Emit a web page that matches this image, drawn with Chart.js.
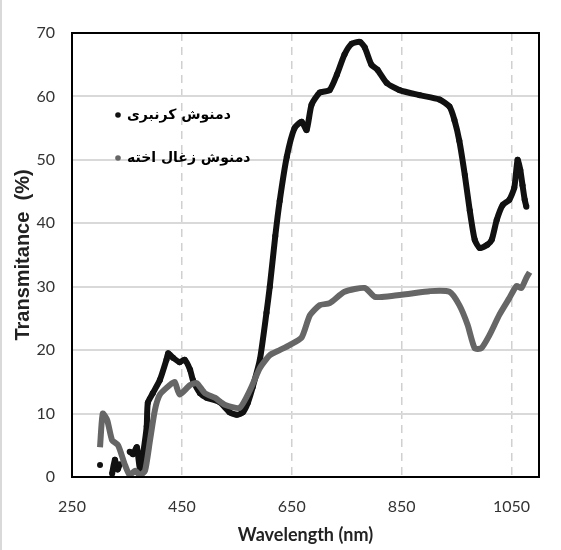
<!DOCTYPE html>
<html>
<head>
<meta charset="utf-8">
<script src="https://cdn.jsdelivr.net/npm/chart.js@4/dist/chart.umd.min.js"></script>
<style>
  html, body { margin: 0; padding: 0; background: #fff; }
  #wrap { width: 561px; height: 550px; position: relative; border-left: 2px solid #d9d9d9; box-sizing: border-box; }
</style>
</head>
<body>
<div id="wrap"><canvas id="chart" width="559" height="550"></canvas></div>
<script>
// подписи осей и тики
const xTicks = [250, 450, 650, 850, 1050];
const yTicks = [0, 10, 20, 30, 40, 50, 60, 70];
const seriesNames = ["دمنوش کرنبری", "دمنوش زغال اخته"];

// серия 1 (черная)
const blackWl = [301, 312, 323, 328, 333, 337, 350, 355, 361, 368, 374, 380, 386, 388, 397, 410, 422, 425, 434, 446, 455, 465, 470, 483, 495, 519, 537, 550, 561, 570, 579, 592, 604, 610, 620, 628, 641, 655, 668, 677, 686, 701, 719, 732, 746, 759, 774, 783, 795, 806, 823, 846, 883, 919, 937, 946, 955, 965, 974, 983, 992, 1006, 1014, 1023, 1034, 1046, 1055, 1061, 1066, 1070, 1074, 1077];
const blackT  = [1.9, null, 0.5, 2.7, 1.2, 2.0, null, 4.0, 3.6, 4.7, 1.0, 4.0, 8.0, 11.7, 13.2, 15.3, 18.5, 19.5, 18.8, 18.1, 18.5, 16.9, 15.3, 13.2, 12.5, 11.8, 10.2, 9.8, 10.2, 11.7, 14.2, 18.5, 25.9, 30, 38, 43.5, 50.5, 55, 56, 54.7, 58.7, 60.6, 61, 63.4, 66.6, 68.3, 68.6, 67.7, 65, 64.2, 62.1, 61, 60.2, 59.5, 58.4, 56.3, 53, 47.6, 42, 37.4, 36.1, 36.6, 37.4, 40.5, 42.9, 43.7, 45.6, 50, 48.4, 46, 43.7, 42.6];

// серия 2 (серая)
const grayWl = [301, 306, 314, 323, 334, 346, 355, 365, 374, 383, 392, 401, 410, 428, 437, 446, 465, 477, 492, 510, 528, 555, 574, 592, 610, 628, 646, 668, 683, 701, 719, 746, 783, 801, 828, 865, 901, 937, 955, 970, 983, 995, 1010, 1028, 1046, 1059, 1068, 1077, 1083];
const grayT  = [4.7, 10, 9, 5.8, 5, 2, 0.3, 1, 0.3, 1, 5.8, 10.6, 13, 14.5, 15, 13, 14.5, 14.8, 13.2, 12.5, 11.4, 10.9, 13.7, 17.2, 19.2, 20, 20.8, 22, 25.5, 27.1, 27.4, 29.2, 29.8, 28.4, 28.5, 28.9, 29.3, 29.2, 27.1, 24, 20.3, 20.3, 22.4, 25.6, 28.2, 30.1, 29.8, 31.4, 32.3];

const toPts = (xs, ys) => xs.map((x, i) => ({ x: x, y: ys[i] }));

// рамка вокруг области графика + легенда внутри
const framePlugin = {
    id: 'frame',
    afterDatasetsDraw(chart) {
        const c = chart.ctx;
        const a = chart.chartArea;
        c.save();
        c.strokeStyle = '#000';
        c.lineWidth = 2;
        c.strokeRect(a.left, a.top, a.right - a.left, a.bottom - a.top);

        const colors = ['#111111', '#666666'];
        const rows = [a.top + 82, a.top + 125];
        c.font = 'bold 14px "DejaVu Sans"';
        c.textBaseline = 'middle';
        seriesNames.forEach((name, i) => {
            c.fillStyle = colors[i];
            c.beginPath();
            c.arc(a.left + 46, rows[i], 2.8, 0, Math.PI * 2);
            c.fill();
            c.fillStyle = '#000';
            c.direction = 'rtl';
            c.textAlign = 'left';
            c.fillText(name, a.left + 55, rows[i]);
        });
        c.restore();
    }
};

const ctx = document.getElementById('chart').getContext('2d');
const myChart = new Chart(ctx, {
    type: 'line',
    data: {
        datasets: [{
            label: seriesNames[0],
            data: toPts(blackWl, blackT),
            borderColor: '#111111',
            backgroundColor: '#111111',
            borderWidth: 6,
            pointRadius: 3,
            pointBorderWidth: 0,
            spanGaps: false,
            tension: 0.2,
            order: 1
        }, {
            label: seriesNames[1],
            data: toPts(grayWl, grayT),
            borderColor: '#666666',
            backgroundColor: '#666666',
            borderWidth: 6,
            pointRadius: 0,
            tension: 0.2,
            order: 0
        }]
    },
    options: {
        responsive: false,
        animation: false,
        layout: { padding: { left: 0, right: 22, top: 33, bottom: 0 } },
        plugins: { legend: { display: false }, tooltip: { enabled: false } },
        scales: {
            x: {
                type: 'linear',
                min: 250,
                max: 1100,
                afterBuildTicks(scale) { scale.ticks = xTicks.map(v => ({ value: v })); },
                afterFit(scale) { scale.height = 73; },
                grid: {
                    color: (c) => c.tick && c.tick.value === 250 ? 'rgba(0,0,0,0)' : '#d0d0d0',
                    lineWidth: 1.5,
                    drawTicks: false
                },
                border: { display: false, dash: [8, 6] },
                ticks: {
                    color: '#333',
                    font: { family: 'Lato', size: 16 },
                    padding: 20,
                    callback: (v) => String(v)
                },
                title: {
                    display: true,
                    text: 'Wavelength (nm)',
                    color: '#222',
                    font: { family: 'Lato', size: 18, weight: 'bold' },
                    padding: { top: 5 }
                }
            },
            y: {
                min: 0,
                max: 70,
                afterBuildTicks(scale) { scale.ticks = yTicks.map(v => ({ value: v })); },
                afterFit(scale) { scale.width = 70; },
                grid: { color: '#d9d9d9', lineWidth: 2, drawTicks: false },
                border: { display: false },
                ticks: { color: '#333', font: { family: 'Lato', size: 16 }, padding: 17 },
                title: {
                    display: true,
                    text: 'Transmitance  (%)',
                    color: '#222',
                    font: { family: 'Liberation Sans', size: 20, weight: 'bold' },
                    padding: { top: 9, bottom: 0 }
                }
            }
        }
    },
    plugins: [framePlugin]
});
</script>
</body>
</html>
